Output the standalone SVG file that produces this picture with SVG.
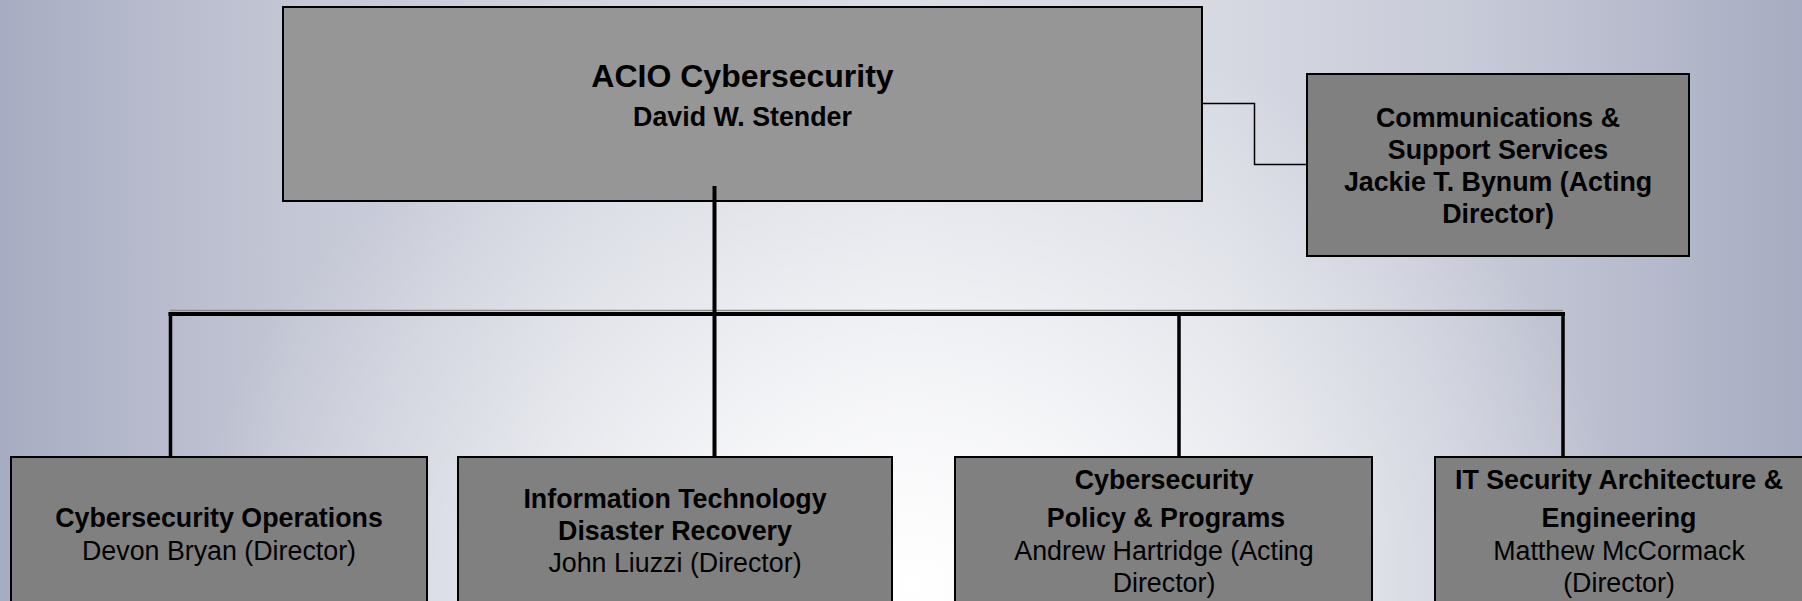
<svg xmlns="http://www.w3.org/2000/svg" width="1802" height="601" viewBox="0 0 1802 601">
  <defs>
    <linearGradient id="bgH" gradientUnits="userSpaceOnUse" x1="0" y1="0" x2="1802" y2="0">
      <stop offset="0" stop-color="#a7acc2"/>
      <stop offset="0.08" stop-color="#b6bacc"/>
      <stop offset="0.16" stop-color="#c3c6d4"/>
      <stop offset="0.32" stop-color="#d2d5df"/>
      <stop offset="0.5" stop-color="#dcdee6"/>
      <stop offset="0.68" stop-color="#d6d9e2"/>
      <stop offset="0.81" stop-color="#c8cbd8"/>
      <stop offset="0.92" stop-color="#b5b9cb"/>
      <stop offset="1" stop-color="#a7acc2"/>
    </linearGradient>
    <radialGradient id="glow" gradientUnits="userSpaceOnUse" cx="910" cy="585" r="720" gradientTransform="translate(910 585) scale(1 0.8) translate(-910 -585)">
      <stop offset="0" stop-color="#ffffff" stop-opacity="1"/>
      <stop offset="0.3" stop-color="#ffffff" stop-opacity="0.75"/>
      <stop offset="0.65" stop-color="#ffffff" stop-opacity="0.35"/>
      <stop offset="1" stop-color="#ffffff" stop-opacity="0"/>
    </radialGradient>
  </defs>
  <style>
    .box { stroke: #000; stroke-width: 2; }
    .top { fill: #969696; }
    .sub { fill: #808080; }
    text { font-family: "Liberation Sans", Arial, sans-serif; fill: #000; text-anchor: middle; font-size: 26.8px; }
    .b { font-weight: bold; }
    .title { font-size: 32px; font-weight: bold; }
    .thick { stroke: #000; stroke-width: 4; fill: none; }
    .drop { stroke: #000; stroke-width: 3.5; fill: none; }
    .thin { stroke: #000; stroke-width: 1.5; fill: none; }
  </style>
  <rect x="0" y="0" width="1802" height="601" fill="url(#bgH)"/>
  <rect x="0" y="0" width="1802" height="601" fill="url(#glow)"/>

  <g id="acio">
    <rect class="box top" x="283" y="7" width="919" height="194"/>
    <text class="title" x="742.5" y="87">ACIO Cybersecurity</text>
    <text class="b" x="742.5" y="126">David W. Stender</text>
  </g>

  <g id="comms">
    <rect class="box sub" x="1307" y="74" width="382" height="182"/>
    <text class="b" x="1498" y="127">Communications &amp;</text>
    <text class="b" x="1498" y="159">Support Services</text>
    <text class="b" x="1498" y="191">Jackie T. Bynum (Acting</text>
    <text class="b" x="1498" y="223">Director)</text>
  </g>

  <g id="ops">
    <rect class="box sub" x="11" y="457" width="416" height="160"/>
    <text class="b" x="219" y="527">Cybersecurity Operations</text>
    <text x="219" y="560">Devon Bryan (Director)</text>
  </g>

  <g id="itdr">
    <rect class="box sub" x="458" y="457" width="434" height="160"/>
    <text class="b" x="675" y="508">Information Technology</text>
    <text class="b" x="675" y="540">Disaster Recovery</text>
    <text x="675" y="572">John Liuzzi (Director)</text>
  </g>

  <g id="policy">
    <rect class="box sub" x="955" y="457" width="417" height="160"/>
    <text class="b" x="1164" y="489">Cybersecurity</text>
    <text class="b" x="1166" y="527">Policy &amp; Programs</text>
    <text x="1164" y="560">Andrew Hartridge (Acting</text>
    <text x="1164" y="592">Director)</text>
  </g>

  <g id="arch">
    <rect class="box sub" x="1435" y="457" width="380" height="160"/>
    <text class="b" x="1619" y="489">IT Security Architecture &amp;</text>
    <text class="b" x="1619" y="527">Engineering</text>
    <text x="1619" y="560">Matthew McCormack</text>
    <text x="1619" y="592">(Director)</text>
  </g>

  <g id="connectors">
    <line x1="170" y1="310.5" x2="1563" y2="310.5" stroke="#8c8c8c" stroke-width="1.5"/>
    <line class="thick" x1="168.5" y1="314" x2="1565" y2="314"/>
    <line class="thick" x1="714.5" y1="186" x2="714.5" y2="457"/>
    <line class="drop" x1="170.5" y1="312" x2="170.5" y2="457"/>
    <line class="drop" x1="1179" y1="312" x2="1179" y2="457"/>
    <line class="drop" x1="1563" y1="312" x2="1563" y2="457"/>
    <polyline class="thin" points="1202,103.5 1254.5,103.5 1254.5,164.5 1307,164.5"/>
  </g>
</svg>
